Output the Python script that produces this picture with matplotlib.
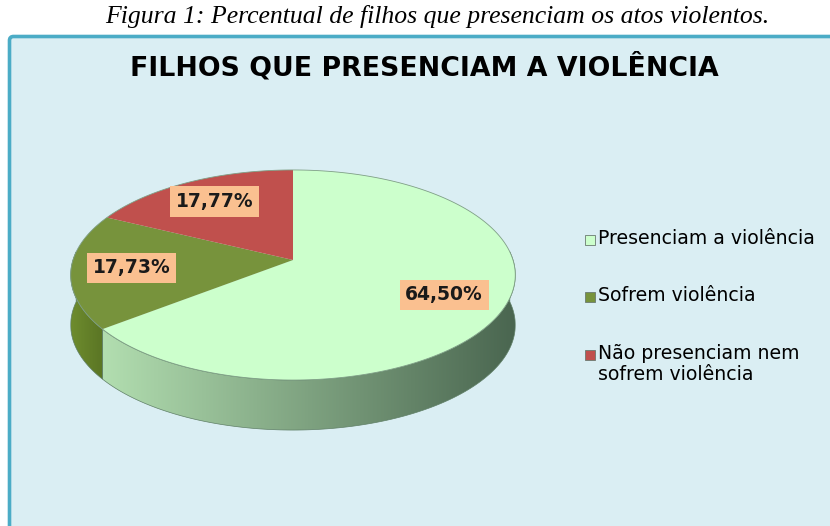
import numpy as np
import matplotlib
matplotlib.use('Agg')
import matplotlib.pyplot as plt
from matplotlib.patches import Polygon, Rectangle, FancyBboxPatch
from matplotlib.colors import LinearSegmentedColormap

# dados
categorias = ['Presenciam a violência', 'Sofrem violência',
              'Não presenciam nem\nsofrem violência']
valores = [64.50, 17.73, 17.77]
rotulos = ['64,50%', '17,73%', '17,77%']
cores_topo = ['#CCFFCC', '#77933C', '#C0504D']
cores_lado = [('#B2DEB0', '#4A6650'), ('#6E8C2E', '#5A7524'), ('#9A3D3A', '#8A3532')]

titulo = 'FILHOS QUE PRESENCIAM A VIOLÊNCIA'
legenda_fig = 'Figura 1: Percentual de filhos que presenciam os atos violentos.'

# geometria da pizza 3D (pixels)
cx, cy = 293, 260
B, A, k = 220, 102.9, 1 / 7.0
prof = 50


def proj(u, v):
    d = 1 + k * v
    return cx + B * u / d, cy - A * v / d


def arco(t1, t2, n=200):
    t = np.linspace(t1, t2, n)
    return [proj(np.cos(a), np.sin(a)) for a in t]


fig = plt.figure(figsize=(8.3, 5.26), dpi=100)
ax = fig.add_axes([0, 0, 1, 1])
ax.set_xlim(0, 830)
ax.set_ylim(526, 0)
ax.axis('off')

# caixa do grafico
caixa = FancyBboxPatch((9.5, 36.5), 840, 520, boxstyle='round,pad=0,rounding_size=4',
                       facecolor='#DAEEF3', edgecolor='#4BACC6', linewidth=2.6)
ax.add_patch(caixa)

ax.text(437, 16, legenda_fig, ha='center', va='center', fontsize=18.5,
        family='Liberation Serif', style='italic')
ax.text(424, 67, titulo, ha='center', va='center', fontsize=19.3,
        fontweight='bold', family='DejaVu Sans')

# angulos (sentido horario a partir das 12h)
total = sum(valores)
cum = np.cumsum([0] + valores) / total
ang = np.pi / 2 - 2 * np.pi * cum

# laterais (parte frontal, sin(t) <= 0)
for i in range(len(valores)):
    a1 = max(ang[i + 1], -np.pi - 0.08)
    a2 = min(ang[i], 0.08)
    if a2 - a1 <= 0:
        continue
    topo = arco(a1, a2)
    base = [(x, y + prof) for x, y in topo][::-1]
    poly = Polygon(topo + base, closed=True, facecolor='none', edgecolor='none')
    ax.add_patch(poly)
    xs = [p[0] for p in topo]
    c1, c2 = cores_lado[i]
    cmap = LinearSegmentedColormap.from_list('lado%d' % i, [c1, c2])
    grad = np.linspace(0, 1, 256).reshape(1, -1)
    im = ax.imshow(grad, cmap=cmap, extent=(min(xs), max(xs), 500, 100),
                   aspect='auto', zorder=1)
    im.set_clip_path(poly)
    ax.add_patch(Polygon(topo + base, closed=True, facecolor='none',
                         edgecolor='#5f7f66', linewidth=0.5, zorder=2))

# topo
for i in range(len(valores)):
    pts = [proj(0, 0)] + arco(ang[i], ang[i + 1])
    ax.add_patch(Polygon(pts, closed=True, facecolor=cores_topo[i],
                         edgecolor='none', zorder=3))
ax.add_patch(Polygon(arco(0, 2 * np.pi, 400), closed=True, facecolor='none',
                     edgecolor='#7f9f86', linewidth=0.6, zorder=4))

# rotulos
r_lab = 0.73
for i in range(len(valores)):
    m = (ang[i] + ang[i + 1]) / 2
    x, y = proj(r_lab * np.cos(m), r_lab * np.sin(m))
    ax.text(x, y, rotulos[i], ha='center', va='center', fontsize=13.5,
            fontweight='bold', color='#1a1a1a', zorder=5,
            bbox=dict(boxstyle='square,pad=0.3', facecolor='#FAC090', edgecolor='none'))

# legenda
leg_y = [240, 297, 355]
for i, cat in enumerate(categorias):
    ax.add_patch(Rectangle((585, leg_y[i] - 5), 10, 10, facecolor=cores_topo[i],
                           edgecolor='#6a7a70', linewidth=0.6, zorder=5))
    ax.text(598, leg_y[i] - 11, cat, ha='left', va='top', fontsize=13.6,
            linespacing=1.15, zorder=5)

fig.savefig('out.png', dpi=100)
